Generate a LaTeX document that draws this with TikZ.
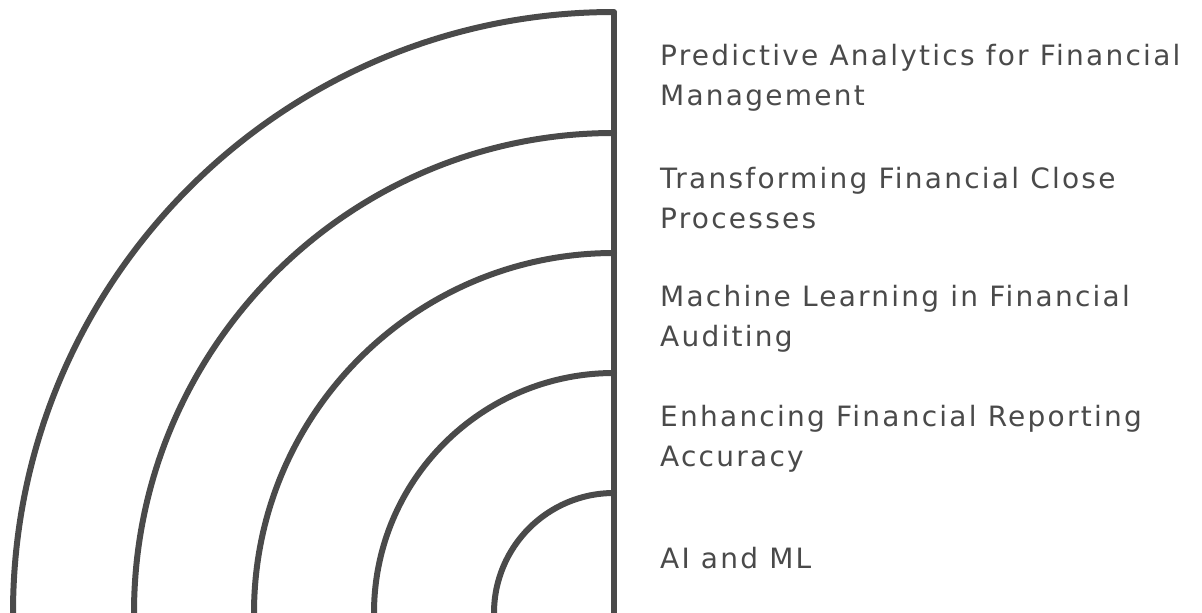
\documentclass[tikz,border=0pt]{standalone}
\usepackage{fontspec}
\setmainfont{DejaVu Sans}[LetterSpace=8]
\begin{document}
\begin{tikzpicture}[x=1pt,y=-1pt,
  ring/.style={draw=ink,line width=6pt,line cap=round},
  label/.style={anchor=west,align=left,text=ink,inner sep=0pt,font=\fontsize{28}{40}\selectfont}]
\definecolor{ink}{HTML}{4A4A4A}
\useasboundingbox (0,0) rectangle (1202,613);
\coordinate (o) at (614,613);
\coordinate (top) at (614,13);
\foreach \r in {120,240,360,480,601}{
  \draw[ring] ([xshift=-\r pt]o) arc[start angle=180,end angle=270,radius=\r];
}
\draw[ring] (top) -- (o);
\node[label] (l1) at (660,78) {Predictive Analytics for Financial\\Management};
\node[label] (l2) at (660,198) {Transforming Financial Close\\Processes};
\node[label] (l3) at (660,319) {Machine Learning in Financial\\Auditing};
\node[label] (l4) at (660,439) {Enhancing Financial Reporting\\Accuracy};
\node[label] (l5) at (660,558) {AI and ML};
\end{tikzpicture}
\end{document}
